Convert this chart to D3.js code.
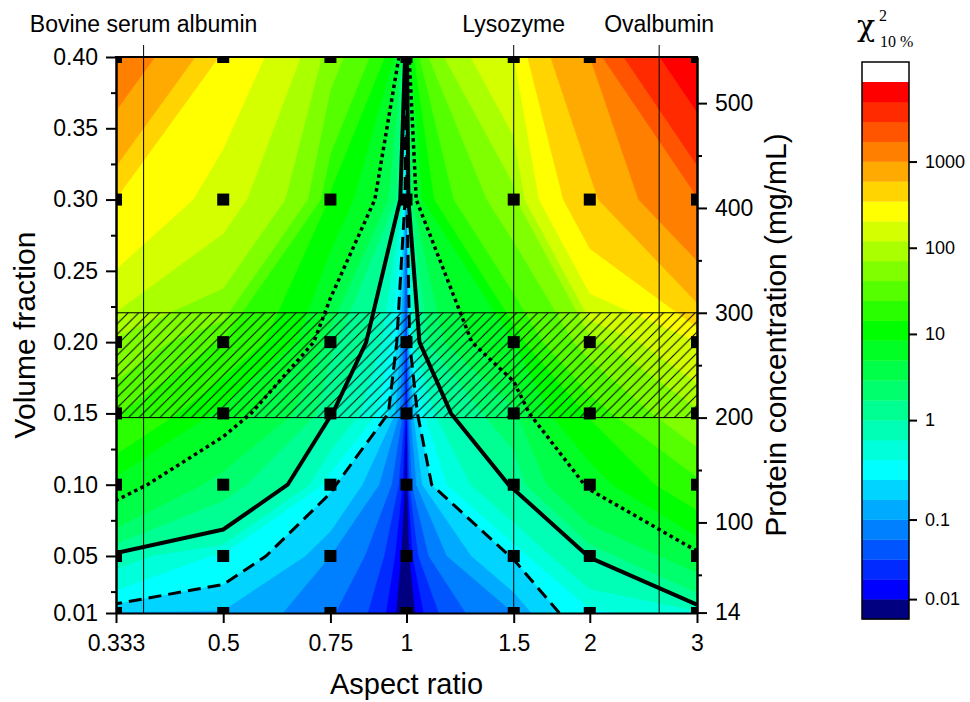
<!DOCTYPE html>
<html>
<head>
<meta charset="utf-8">
<title>Chi-square map: aspect ratio vs volume fraction</title>
<script src="https://cdn.jsdelivr.net/npm/d3@7"></script>
<style>
  body { margin: 0; background: #fff; }
  text { font-family: "Liberation Sans", Arial, sans-serif; fill: #000; }
  .axis path, .axis line { stroke: #000; stroke-width: 2; }
  .axis text { font-size: 23px; }
</style>
</head>
<body>
<svg id="chart" width="970" height="702"></svg>
<script>
// grid of the computed points
const aspectRatios = [1 / 3, 0.5, 0.75, 1, 1.5, 2, 3];
const aspectLabels = ["0.333", "0.5", "0.75", "1", "1.5", "2", "3"];
const volumeFractions = [0.01, 0.05, 0.10, 0.15, 0.20, 0.30, 0.40];

// chi-square (10 %) at each aspect ratio, one list per volume fraction
const chi2At001 = [0.15, 0.15, 0.06, 0.002, 0.10, 0.35, 0.5];
const chi2At005 = [0.77, 0.35, 0.10, 0.003, 0.26, 1.02, 3.9];
const chi2At010 = [6.2, 2.1, 0.27, 0.004, 1.05, 5.3, 20];
const chi2At015 = [25, 6.4, 1.03, 0.006, 2.4, 15, 60];
const chi2At020 = [60, 22, 1.88, 0.01, 8.2, 50, 200];
const chi2At030 = [340, 150, 12, 0.02, 55, 500, 1600];
const chi2At040 = [1400, 300, 50, 0.03, 200, 1000, 7000];
const chi2Rows = [chi2At001, chi2At005, chi2At010, chi2At015, chi2At020, chi2At030, chi2At040];

const yTicks = [0.01, 0.05, 0.10, 0.15, 0.20, 0.25, 0.30, 0.35, 0.40];
const yMinor = [0.025, 0.075, 0.125, 0.175, 0.225, 0.275, 0.325, 0.375];

// right axis, protein concentration
const concTicks = [14, 100, 200, 300, 400, 500];
const concMinor = [50, 150, 250, 350, 450];
const mgPerMl = 1360;          // mg/mL at volume fraction 1
const hatchBand = [200, 300];  // mg/mL

const proteins = ["Bovine serum albumin", "Lysozyme", "Ovalbumin"];
const proteinRatios = [0.37, 1.5, 2.6];

// isolines: dashed, solid, dotted
const lineLevels = [0.25, 1, 5];
const lineDash = ["13,7", null, "3.5,3.5"];
const lineWidth = [3, 4, 3.5];

// colour levels (log10 of chi-square), bottom to top, and band colours
const levelLogs = [-2.25, -2, -1.75, -1.5, -1.25, -1, -0.8, -0.6, -0.4, -0.2,
  0, 0.231, 0.462, 0.692, 0.923, 1.154, 1.385, 1.615, 1.846, 2.077,
  2.308, 2.538, 2.769, 3, 3.231, 3.462, 3.692, 3.923];
const levelColors = ["#000080", "#0000ff", "#002aff", "#0055ff", "#0080ff", "#00aaff",
  "#00d4ff", "#00ffff", "#00ffdb", "#00ffb6", "#00ff92", "#00ff6d", "#00ff49",
  "#00ff24", "#00ff00", "#2aff00", "#55ff00", "#80ff00", "#aaff00", "#d4ff00",
  "#ffff00", "#ffd400", "#ffaa00", "#ff8000", "#ff5500", "#ff2a00", "#ff0000", "#ffffff"];
const cbarTicks = [0.01, 0.1, 1, 10, 100, 1000];
const cbarLabels = ["0.01", "0.1", "1", "10", "100", "1000"];

const svg = d3.select("#chart");
const pL = 116, pR = 697, pT = 57, pB = 613;

const x = d3.scaleLog().domain([1 / 3, 3]).range([pL, pR]);
const y = d3.scaleLinear().domain([0.01, 0.40]).range([pB, pT]);
const yc = d3.scaleLinear().domain([0.01 * mgPerMl, 0.40 * mgPerMl]).range([pB, pT]);

const defs = svg.append("defs");
defs.append("clipPath").attr("id", "plotClip")
  .append("rect").attr("x", pL).attr("y", pT)
  .attr("width", pR - pL).attr("height", pB - pT);

const pattern = defs.append("pattern")
  .attr("id", "hatch").attr("patternUnits", "userSpaceOnUse")
  .attr("width", 10.5).attr("height", 10.5);
pattern.append("path")
  .attr("d", "M-1,11.5L11.5,-1M-2,2L2,-2M8.5,12.5L12.5,8.5")
  .attr("stroke", "#000").attr("stroke-width", 1);

const plot = svg.append("g").attr("clip-path", "url(#plotClip)");

// contour grid -> pixel mapping (grid values sit at index + 0.5)
const nx = aspectRatios.length, ny = volumeFractions.length;
const X = aspectRatios.map(d => x(d));
const Y = volumeFractions.map(d => y(d));
function gridTo(P, u, n) {
  const g = Math.max(0, Math.min(n - 1, u - 0.5));
  const i = Math.min(n - 2, Math.floor(g));
  return P[i] + (g - i) * (P[i + 1] - P[i]);
}
const px = p => gridTo(X, p[0], nx);
const py = p => gridTo(Y, p[1], ny);

const values = [];
chi2Rows.forEach(row => row.forEach(v => values.push(v)));

const fillLevels = levelLogs.slice(1).map(l => Math.pow(10, l));
const bands = d3.contours().size([nx, ny]).thresholds(fillLevels)(values);
const geo = d3.geoPath(d3.geoTransform({
  point: function(a, b) { this.stream.point(px([a, b]), py([a, b])); }
}));

plot.append("rect").attr("x", pL).attr("y", pT)
  .attr("width", pR - pL).attr("height", pB - pT)
  .attr("fill", levelColors[0]);

plot.append("g").selectAll("path").data(bands).join("path")
  .attr("d", geo)
  .attr("fill", (d, i) => levelColors[i + 1])
  .attr("stroke", (d, i) => levelColors[i + 1])
  .attr("stroke-width", 0.4);

// hatched concentration band
plot.append("rect")
  .attr("x", pL).attr("width", pR - pL)
  .attr("y", yc(hatchBand[1])).attr("height", yc(hatchBand[0]) - yc(hatchBand[1]))
  .attr("fill", "url(#hatch)");
hatchBand.forEach(c => {
  plot.append("line").attr("x1", pL).attr("x2", pR)
    .attr("y1", yc(c)).attr("y2", yc(c))
    .attr("stroke", "#000").attr("stroke-width", 1);
});

// isolines without the grid border
function onEdge(a, b) {
  const lo = 0.5 + 1e-9, hx = nx - 0.5 - 1e-9, hy = ny - 0.5 - 1e-9;
  return (a[0] <= lo && b[0] <= lo) || (a[0] >= hx && b[0] >= hx) ||
         (a[1] <= lo && b[1] <= lo) || (a[1] >= hy && b[1] >= hy);
}
function linePath(multi) {
  let d = "";
  multi.coordinates.forEach(poly => poly.forEach(ring => {
    let pen = false;
    for (let i = 1; i < ring.length; i++) {
      const a = ring[i - 1], b = ring[i];
      if (onEdge(a, b)) { pen = false; continue; }
      if (!pen) { d += `M${px(a)},${py(a)}`; pen = true; }
      d += `L${px(b)},${py(b)}`;
    }
  }));
  return d;
}
const isolines = d3.contours().size([nx, ny]).thresholds(lineLevels)(values);
plot.append("g").selectAll("path").data(isolines).join("path")
  .attr("d", linePath)
  .attr("fill", "none")
  .attr("stroke", "#000")
  .attr("stroke-width", (d, i) => lineWidth[i])
  .attr("stroke-dasharray", (d, i) => lineDash[i])
  .attr("stroke-linejoin", "round");

// grid points
const pts = [];
volumeFractions.forEach(f => aspectRatios.forEach(a => pts.push([a, f])));
plot.append("g").selectAll("rect").data(pts).join("rect")
  .attr("x", d => x(d[0]) - 6).attr("y", d => y(d[1]) - 6)
  .attr("width", 12).attr("height", 12).attr("fill", "#000");

// protein markers
proteins.forEach((name, i) => {
  svg.append("line")
    .attr("x1", x(proteinRatios[i])).attr("x2", x(proteinRatios[i]))
    .attr("y1", pT - 12).attr("y2", pB)
    .attr("stroke", "#000").attr("stroke-width", 1);
  svg.append("text").attr("x", x(proteinRatios[i])).attr("y", 32)
    .attr("text-anchor", "middle").style("font-size", "23px").text(name);
});

// axes
svg.append("g").attr("class", "axis").attr("transform", `translate(${pL},0)`)
  .call(d3.axisLeft(y).tickValues(yTicks).tickFormat(d3.format(".2f"))
    .tickSize(10).tickSizeOuter(0).tickPadding(8));
svg.append("g").attr("class", "axis").attr("transform", `translate(${pL},0)`)
  .call(d3.axisLeft(y).tickValues(yMinor).tickFormat("").tickSize(5).tickSizeOuter(0));

svg.append("g").attr("class", "axis").attr("transform", `translate(0,${pB})`)
  .call(d3.axisBottom(x).tickValues(aspectRatios).tickFormat((d, i) => aspectLabels[i])
    .tickSize(10).tickSizeOuter(0).tickPadding(12));

svg.append("g").attr("class", "axis").attr("transform", `translate(${pR},0)`)
  .call(d3.axisRight(yc).tickValues(concTicks).tickFormat(d3.format("d"))
    .tickSize(10).tickSizeOuter(0).tickPadding(8));
svg.append("g").attr("class", "axis").attr("transform", `translate(${pR},0)`)
  .call(d3.axisRight(yc).tickValues(concMinor).tickFormat("").tickSize(5).tickSizeOuter(0));

svg.append("line").attr("x1", pL - 1).attr("x2", pR + 1)
  .attr("y1", pT).attr("y2", pT).attr("stroke", "#000").attr("stroke-width", 2);

svg.append("text").attr("x", (pL + pR) / 2).attr("y", 694)
  .attr("text-anchor", "middle").style("font-size", "29px").text("Aspect ratio");
svg.append("text").attr("transform", `translate(35,${(pT + pB) / 2}) rotate(-90)`)
  .attr("text-anchor", "middle").style("font-size", "30px").text("Volume fraction");
svg.append("text").attr("transform", `translate(786,${(pT + pB) / 2}) rotate(-90)`)
  .attr("text-anchor", "middle").style("font-size", "30px").text("Protein concentration (mg/mL)");

// colour bar
const cbX = 862, cbW = 47, cbBottom = 619, cbTop = 62;
const bandH = (cbBottom - 82) / (levelLogs.length - 1);
const cb = d3.scaleLinear().domain(levelLogs)
  .range(levelLogs.map((d, k) => cbBottom - k * bandH));
const cbar = svg.append("g");
levelColors.slice(0, levelLogs.length - 1).forEach((c, k) => {
  cbar.append("rect").attr("x", cbX).attr("width", cbW)
    .attr("y", cb(levelLogs[k + 1])).attr("height", bandH + 0.3).attr("fill", c);
});
cbar.append("rect").attr("x", cbX).attr("width", cbW)
  .attr("y", cbTop).attr("height", cb(levelLogs[levelLogs.length - 1]) - cbTop)
  .attr("fill", levelColors[levelColors.length - 1]);
cbar.append("rect").attr("x", cbX).attr("y", cbTop).attr("width", cbW)
  .attr("height", cbBottom - cbTop).attr("fill", "none")
  .attr("stroke", "#000").attr("stroke-width", 1.5);
const cbAxis = svg.append("g").attr("class", "axis").attr("transform", `translate(${cbX + cbW},0)`)
  .call(d3.axisRight(cb).tickValues(cbarTicks.map(Math.log10))
    .tickFormat((d, i) => cbarLabels[i]).tickSize(8).tickSizeOuter(0).tickPadding(8));
cbAxis.select(".domain").remove();
cbAxis.selectAll("text").style("font-size", "18px");

const serif = '"Liberation Serif", "DejaVu Serif", serif';
svg.append("text").attr("x", 857).attr("y", 36).style("font-family", '"DejaVu Serif", serif')
  .style("font-size", "30px").text("χ");
svg.append("text").attr("x", 879).attr("y", 21).style("font-family", serif)
  .style("font-size", "16px").text("2");
svg.append("text").attr("x", 880).attr("y", 47).style("font-family", serif)
  .style("font-size", "16px").text("10 %");
</script>
</body>
</html>
